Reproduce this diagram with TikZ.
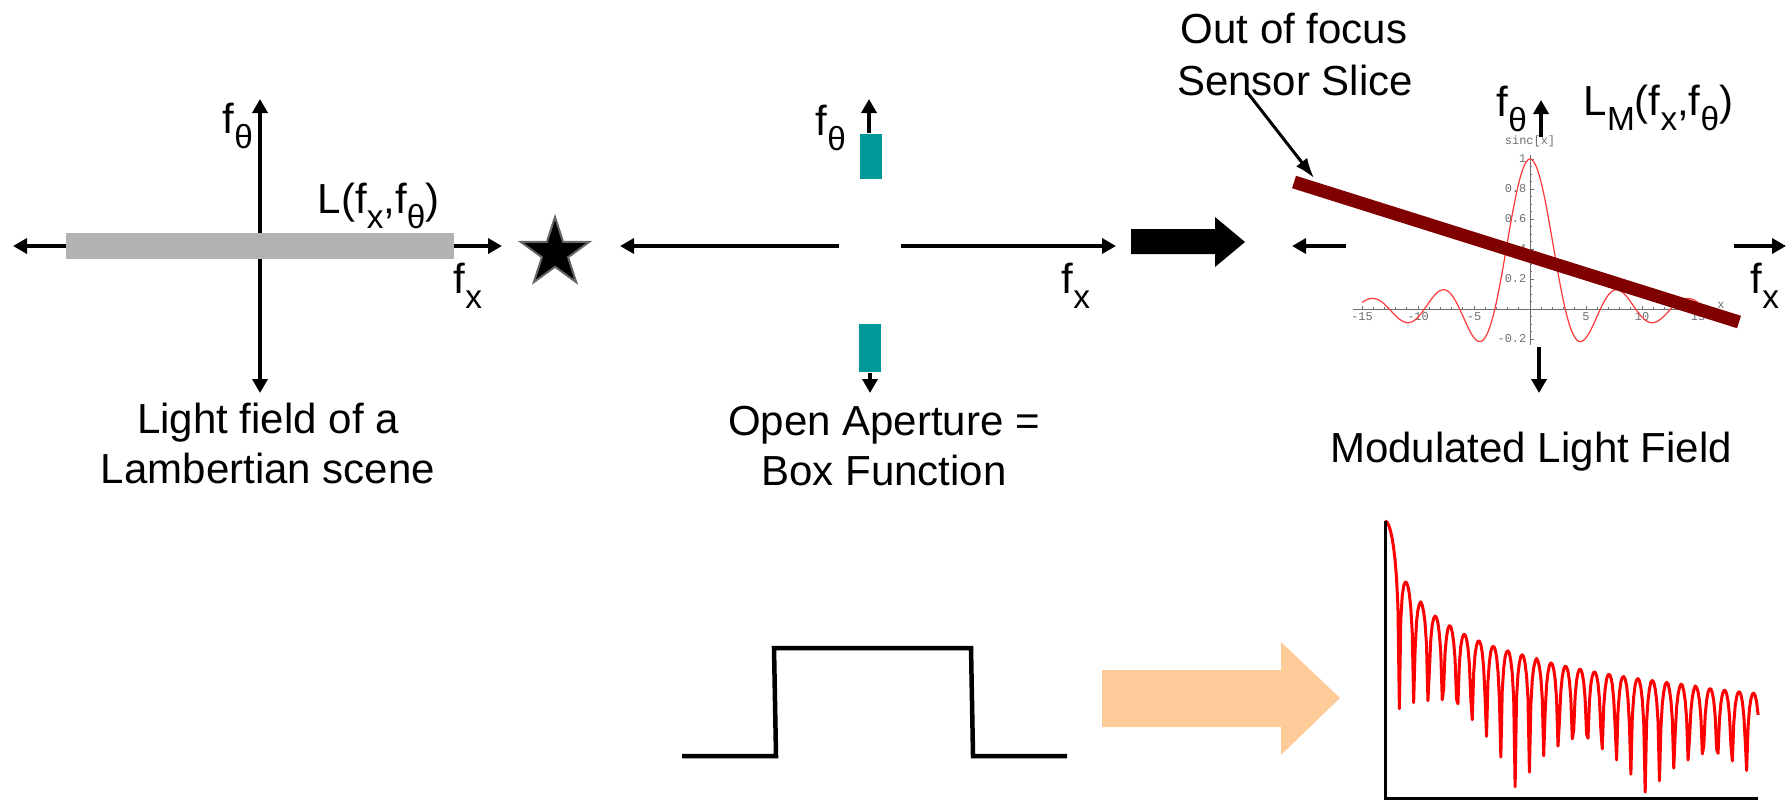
\documentclass[tikz,border=0pt]{standalone}
\usepackage{fontspec}
\setmainfont{Liberation Sans}
\newfontfamily\plotmono{Liberation Mono}
\usepackage{graphicx}
\usetikzlibrary{arrows.meta,shapes.geometric}
\definecolor{barGray}{RGB}{178,178,178}
\definecolor{apTeal}{RGB}{0,153,153}
\definecolor{sliceRed}{RGB}{128,0,0}
\definecolor{peach}{RGB}{255,204,153}
\definecolor{sincRed}{RGB}{255,60,60}
\definecolor{tickGray}{RGB}{110,110,110}
\newcommand{\sbs}[1]{\raisebox{-0.36em}{\fontsize{9.5pt}{10pt}\selectfont #1}}
\begin{document}
\begin{tikzpicture}[x=0.01cm,y=-0.01cm,
  lbl/.style={inner sep=0pt, font=\fontsize{11.95pt}{14pt}\selectfont},
  ahead/.style={line width=0.045cm, -{Triangle[length=0.14cm,width=0.15cm]}},
  bihead/.style={line width=0.045cm, {Triangle[length=0.14cm,width=0.15cm]}-{Triangle[length=0.14cm,width=0.15cm]}},
  ticklbl/.style={inner sep=0pt, text=tickGray, font=\plotmono\fontsize{3.4pt}{3.6pt}\selectfont},
  tickln/.style={tickGray, line width=0.25pt}]
\useasboundingbox (0,0) rectangle (1786,800);

% ---------- left figure ----------
\coordinate (lL) at (13,246);
\coordinate (lR) at (502,246);
\coordinate (lT) at (260,99);
\coordinate (lB) at (260,393);
\draw[bihead] (lL) -- (lR);
\draw[bihead] (lB) -- (lT);
\fill[barGray] (66,233) rectangle (454,259);
\node[lbl, anchor=base west] (lth) at (222,133) {f\sbs{θ}};
\node[lbl, anchor=base west] (lfun) at (317,213) {L(f\sbs{x},f\sbs{θ})};
\node[lbl, anchor=base west] (lfx) at (453,293) {f\sbs{x}};
\node[lbl, anchor=base] (lt1) at (268,433) {Light field of a};
\node[lbl, anchor=base] (lt2) at (268,483) {Lambertian scene};

% star
\node[star, star points=5, star point ratio=2.618, minimum size=0.72cm, inner sep=0pt,
      fill=black, draw=black!60, line width=0.02cm] (conv) at (555,253) {};

% ---------- middle figure ----------
\coordinate (mL) at (620,246);
\coordinate (mLs) at (839,246);
\coordinate (mRs) at (901,246);
\coordinate (mR) at (1116,246);
\draw[ahead] (mLs) -- (mL);
\draw[ahead] (mRs) -- (mR);
\node[fill=apTeal, inner sep=0pt, minimum width=0.22cm, minimum height=0.45cm] (apUp) at (871,156.5) {};
\node[fill=apTeal, inner sep=0pt, minimum width=0.22cm, minimum height=0.48cm] (apDn) at (870,348) {};
\coordinate (mT) at (869,99);
\coordinate (mB) at (870,393);
\draw[ahead] (apUp.north -| mT) -- (mT);
\draw[ahead] (apDn.south -| mB) -- (mB);
\node[lbl, anchor=base west] (mth) at (815,135) {f\sbs{θ}};
\node[lbl, anchor=base west] (mfx) at (1061,293) {f\sbs{x}};
\node[lbl, anchor=base] (mt1) at (884,435) {Open Aperture =};
\node[lbl, anchor=base] (mt2) at (884,485) {Box Function};

% big black arrow
\fill[black] (1131,229) -- (1215,229) -- (1215,217) -- (1245,242) -- (1215,267) -- (1215,254) -- (1131,254) -- cycle;

% ---------- right figure ----------
% sinc plot
\draw[tickln] (1353,309) -- (1718,309);
\draw[tickln] (1530,155) -- (1530,345);
\foreach \k in {-15,...,15} \draw[tickln] ({1530+11.2*\k},309) -- ++(0,-1.8);
\foreach \k in {-15,-10,-5,5,10,15} \draw[tickln] ({1530+11.2*\k},309) -- ++(0,-3.5);
\foreach \k in {-4,...,20} \draw[tickln] (1530,{309-7.5*\k}) -- ++(1.8,0);
\foreach \k in {-4,4,8,12,16,20} \draw[tickln] (1530,{309-7.5*\k}) -- ++(3.5,0);
\foreach \v [count=\i] in {-15,-10,-5,5,10,15}
  \node[ticklbl, anchor=north] (xt\i) at ({1530+11.2*\v},312) {\v};
\foreach \v/\t [count=\i] in {1/1,0.8/0.8,0.6/0.6,0.4/0.4,0.2/0.2,-0.2/-0.2}
  \node[ticklbl, anchor=east] (yt\i) at (1527,{309-150*\v}) {\t};
\node[ticklbl] (sincl) at (1530,141) {sinc[x]};
\node[ticklbl] (xl) at (1721,305) {x};
\draw[sincRed, line width=0.35pt, domain=-15:15, samples=240, smooth]
  plot ({1530+11.2*\x}, {309-150*sin(\x r)/\x});

% slice
\coordinate (sA) at (1294,182);
\coordinate (sB) at (1739,322);
\draw[sliceRed, line width=0.13cm] (sA) -- (sB);
\coordinate (pS) at (1247,92);
\coordinate (pE) at (1314,178);
\draw[line width=0.03cm, -{Latex[length=0.2cm,width=0.14cm]}] (pS) -- (pE);

% axes
\coordinate (rL) at (1292,246);
\coordinate (rLs) at (1346,246);
\coordinate (rRs) at (1734,246);
\coordinate (rR) at (1786,246);
\draw[ahead] (rLs) -- (rL);
\draw[ahead] (rRs) -- (rR);
\coordinate (rTs) at (1541,137);
\coordinate (rT) at (1541,100);
\coordinate (rBs) at (1539,347);
\coordinate (rB) at (1539,393);
\draw[ahead] (rTs) -- (rT);
\draw[ahead] (rBs) -- (rB);
\node[lbl, anchor=base west] (rth) at (1496,116) {f\sbs{θ}};
\node[lbl, anchor=base west] (rfun) at (1583,115) {L\sbs{M}(f\sbs{x},f\sbs{θ})};
\node[lbl, anchor=base west] (rfx) at (1750,293) {f\sbs{x}};
\node[lbl, anchor=base] (of1) at (1294,43) {Out of focus};
\node[lbl, anchor=base] (of2) at (1295,95) {Sensor Slice};
\node[lbl, anchor=base] (mlf) at (1531,462) {Modulated Light Field};

% ---------- bottom ----------
\draw[line width=0.045cm] (682,756) -- (776,756) -- (774,648) -- (971,648) -- (973,756) -- (1067,756);
\fill[peach] (1102,670) -- (1281,670) -- (1281,642) -- (1340,698) -- (1281,755) -- (1281,727) -- (1102,727) -- cycle;

\begin{scope}
\clip (1385,505) rectangle (1762,798);
\draw[red, line width=0.03cm, line join=round, domain=0.01:81.1, samples=262]
  plot ({1385+\x*4.6}, {521-39.95*ln(abs(sin(\x r)/\x)+0.001)});
\end{scope}
\draw[line width=0.03cm] (1385,521) -- (1385,798) -- (1758,798);
\end{tikzpicture}
\end{document}
